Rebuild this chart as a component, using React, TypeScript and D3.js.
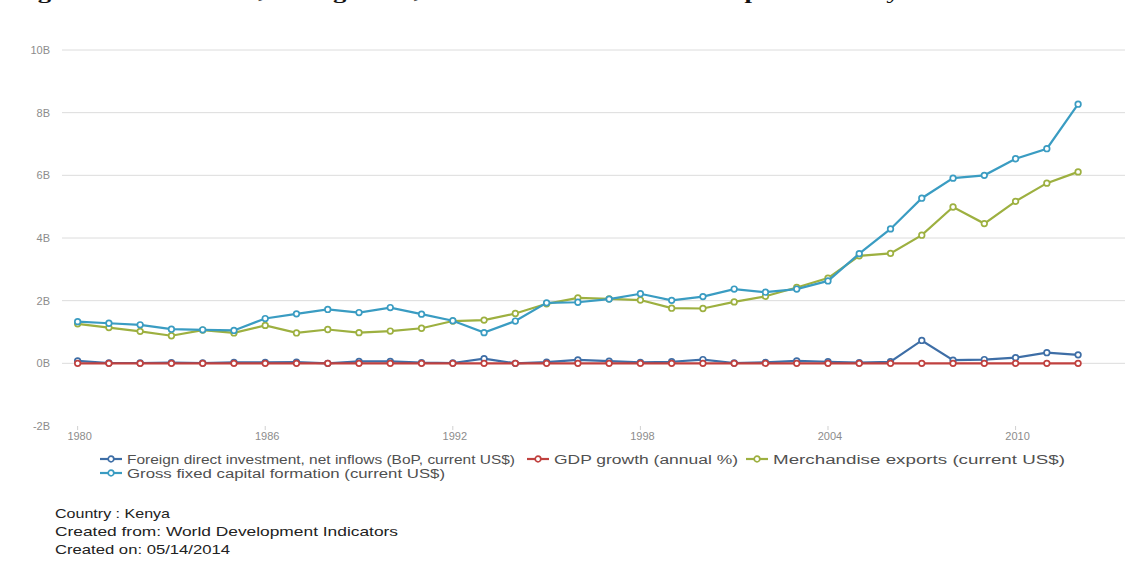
import { useEffect, useRef } from "react"
import * as d3 from "d3"

const years = d3.range(1980, 2013)

// values in billions of current US$ (GDP growth is a % and sits on the zero line)
const fdiInflows = [
  0.08, 0.01, 0.01, 0.02, 0.01, 0.03, 0.03, 0.04, 0.00, 0.06, 0.06,
  0.02, 0.01, 0.15, 0.00, 0.04, 0.11, 0.07, 0.03, 0.05, 0.12, 0.01,
  0.03, 0.08, 0.05, 0.02, 0.05, 0.73, 0.10, 0.12, 0.18, 0.34, 0.27
]
const gdpGrowth = [
  5.6, 3.8, 1.5, 1.3, 1.8, 4.3, 7.2, 5.9, 6.2, 4.7, 4.2,
  1.4, -0.8, 0.4, 2.6, 4.4, 4.1, 0.5, 3.3, 2.3, 0.6, 3.8,
  0.5, 2.9, 5.1, 5.9, 6.3, 7.0, 0.2, 3.3, 8.4, 6.1, 4.6
]
const merchExports = [
  1.26, 1.14, 1.02, 0.88, 1.06, 0.97, 1.21, 0.97, 1.08, 0.98, 1.03,
  1.12, 1.35, 1.38, 1.59, 1.90, 2.09, 2.06, 2.02, 1.76, 1.75, 1.96,
  2.14, 2.42, 2.72, 3.43, 3.51, 4.09, 4.99, 4.46, 5.17, 5.75, 6.11
]
const grossCapital = [
  1.33, 1.28, 1.23, 1.09, 1.07, 1.05, 1.43, 1.58, 1.72, 1.62, 1.78,
  1.57, 1.36, 0.98, 1.35, 1.93, 1.95, 2.05, 2.22, 2.01, 2.13, 2.37,
  2.27, 2.37, 2.63, 3.50, 4.29, 5.27, 5.91, 6.00, 6.53, 6.85, 8.27
]

const yTicks = [-2, 0, 2, 4, 6, 8, 10]
const xTicks = [1980, 1986, 1992, 1998, 2004, 2010]

const series = [
  { name: "Foreign direct investment, net inflows (BoP, current US$)", values: fdiInflows, color: "#3e6ea6", scale: 1 },
  { name: "GDP growth (annual %)", values: gdpGrowth, color: "#c0413f", scale: 1e-9 },
  { name: "Merchandise exports (current US$)", values: merchExports, color: "#9db040", scale: 1 },
  { name: "Gross fixed capital formation (current US$)", values: grossCapital, color: "#3a9cc2", scale: 1 }
]

const footer = [
  "Country : Kenya",
  "Created from: World Development Indicators",
  "Created on: 05/14/2014"
]

const caption = "Figure 4: FDI inflows, GDP growth, Domestic investment and exports of Kenya from 1980 to 2012"

export default function App() {
  const svgRef = useRef<SVGSVGElement>(null)

  useEffect(() => {
    if (!svgRef.current) return
    const svg = d3.select(svgRef.current)
    svg.selectAll("*").remove()

    const font = "'Liberation Sans', Arial, sans-serif"

    const x = d3.scaleLinear().domain([1979.5, 2013.5]).range([62, 1125])
    const y = d3.scaleLinear().domain([-2, 10]).range([426, 50])

    // caption of the page above, cut by the crop
    svg.append("text")
      .attr("x", 14)
      .attr("y", -1)
      .attr("textLength", 1110)
      .attr("lengthAdjust", "spacingAndGlyphs")
      .style("font-family", "'Liberation Serif', 'Times New Roman', serif")
      .style("font-weight", "bold")
      .style("font-size", "17px")
      .style("fill", "#111")
      .text(caption)

    // grid
    svg.append("g").selectAll("line")
      .data(yTicks.filter(d => d > -2))
      .join("line")
      .attr("x1", x(1979.5))
      .attr("x2", x(2013.5))
      .attr("y1", d => y(d))
      .attr("y2", d => y(d))
      .attr("stroke", "#dcdcdc")
      .attr("stroke-width", 1)

    svg.append("g").selectAll("text")
      .data(yTicks)
      .join("text")
      .attr("x", 50)
      .attr("y", d => y(d) + 4)
      .attr("text-anchor", "end")
      .style("font-family", font)
      .style("font-size", "11px")
      .style("fill", "#8c8c8c")
      .text(d => `${d}B`)

    const xg = svg.append("g")
    xg.selectAll("line")
      .data(xTicks)
      .join("line")
      .attr("x1", d => x(d))
      .attr("x2", d => x(d))
      .attr("y1", 426)
      .attr("y2", 430)
      .attr("stroke", "#d0d0d0")
    xg.selectAll("text")
      .data(xTicks)
      .join("text")
      .attr("x", d => x(d) + 2)
      .attr("y", 440)
      .attr("text-anchor", "middle")
      .style("font-family", font)
      .style("font-size", "11px")
      .style("fill", "#8c8c8c")
      .text(d => d)

    // lines
    const line = d3.line<number>()
      .x((_, i) => x(years[i]))

    series.forEach(s => {
      const g = svg.append("g")
      g.append("path")
        .datum(s.values)
        .attr("d", line.y(v => y(v * s.scale)))
        .attr("fill", "none")
        .attr("stroke", s.color)
        .attr("stroke-width", 2.2)
      g.selectAll("circle")
        .data(s.values)
        .join("circle")
        .attr("cx", (_, i) => x(years[i]))
        .attr("cy", v => y(v * s.scale))
        .attr("r", 2.8)
        .attr("fill", "#fff")
        .attr("stroke", s.color)
        .attr("stroke-width", 1.7)
    })

    // legend
    const legendItems = [
      { s: series[0], x: 100, y: 459, w: 388 },
      { s: series[1], x: 527, y: 459, w: 184 },
      { s: series[2], x: 746, y: 459, w: 292 },
      { s: series[3], x: 100, y: 473, w: 318 }
    ]
    legendItems.forEach(it => {
      const g = svg.append("g").attr("transform", `translate(${it.x},${it.y})`)
      g.append("line")
        .attr("x1", 0).attr("x2", 22)
        .attr("stroke", it.s.color)
        .attr("stroke-width", 2.2)
      g.append("circle")
        .attr("cx", 11).attr("r", 2.8)
        .attr("fill", "#fff")
        .attr("stroke", it.s.color)
        .attr("stroke-width", 1.7)
      g.append("text")
        .attr("x", 27)
        .attr("y", 4.5)
        .attr("textLength", it.w)
        .attr("lengthAdjust", "spacingAndGlyphs")
        .style("font-family", font)
        .style("font-size", "12.5px")
        .style("fill", "#505050")
        .text(it.s.name)
    })

    // footer
    const footerWidths = [115, 343, 175]
    svg.append("g").selectAll("text")
      .data(footer)
      .join("text")
      .attr("x", 55)
      .attr("y", (_, i) => 518 + i * 18)
      .attr("textLength", (_, i) => footerWidths[i])
      .attr("lengthAdjust", "spacingAndGlyphs")
      .style("font-family", font)
      .style("font-size", "13px")
      .style("fill", "#222")
      .text(d => d)
  }, [])

  return (
    <svg
      ref={svgRef}
      width={1128}
      height={562}
      style={{ position: "absolute", left: 0, top: 0, background: "#fff" }}
    />
  )
}
